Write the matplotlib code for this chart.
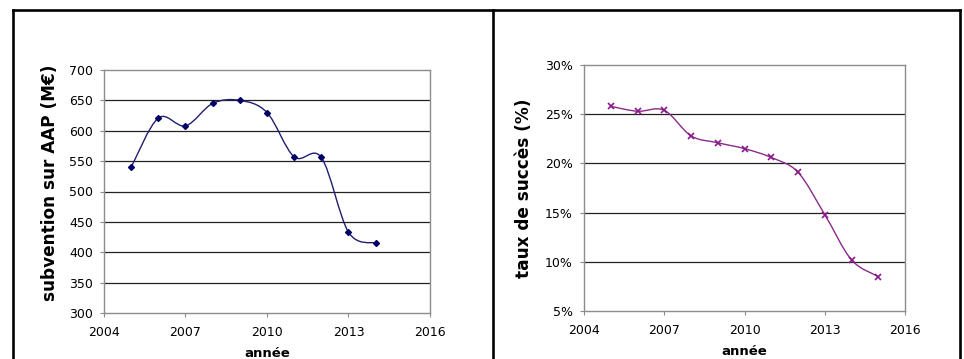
import matplotlib
matplotlib.use("Agg")
import matplotlib.pyplot as plt
from matplotlib.path import Path
from matplotlib.patches import PathPatch
from matplotlib.lines import Line2D
from matplotlib.ticker import FuncFormatter
import numpy as np

years_left = [2005, 2006, 2007, 2008, 2009, 2010, 2011, 2012, 2013, 2014]
subvention = [540, 621, 608, 645, 650, 630, 557, 556, 433, 415]

years_right = [2005, 2006, 2007, 2008, 2009, 2010, 2011, 2012, 2013, 2014, 2015]
taux = [25.8, 25.3, 25.4, 22.8, 22.1, 21.5, 20.6, 19.1, 14.8, 10.2, 8.5]

x_ticks = [2004, 2007, 2010, 2013, 2016]
left_yticks = [300, 350, 400, 450, 500, 550, 600, 650, 700]
right_yticks = [5, 10, 15, 20, 25, 30]

plt.rcParams['font.family'] = ['DejaVu Sans']

fig = plt.figure(figsize=(9.64, 3.59), dpi=100)

def smooth_path(xs, ys):
    xs = np.asarray(xs, float); ys = np.asarray(ys, float)
    n = len(xs)
    verts = [(xs[0], ys[0])]
    codes = [Path.MOVETO]
    for i in range(n - 1):
        p0 = np.array([xs[max(i - 1, 0)], ys[max(i - 1, 0)]])
        p1 = np.array([xs[i], ys[i]])
        p2 = np.array([xs[i + 1], ys[i + 1]])
        p3 = np.array([xs[min(i + 2, n - 1)], ys[min(i + 2, n - 1)]])
        c1 = p1 + (p2 - p0) / 6.0
        c2 = p2 - (p3 - p1) / 6.0
        verts += [tuple(c1), tuple(c2), tuple(p2)]
        codes += [Path.CURVE4] * 3
    return Path(verts, codes)

def style_axes(ax, yticks, ylabel, ylpad, ypos, fmt=None):
    ax.set_xlim(x_ticks[0], x_ticks[-1])
    ax.set_ylim(yticks[0], yticks[-1])
    ax.set_xticks(x_ticks)
    ax.set_yticks(yticks)
    for s in ax.spines.values():
        s.set_color('#8c8c8c')
        s.set_linewidth(1.0)
    ax.tick_params(axis='both', direction='out', length=3, width=0.8,
                   color='#8c8c8c', labelsize=9, labelcolor='black')
    ax.tick_params(axis='x', pad=6)
    ax.tick_params(axis='y', pad=5)
    for yv in yticks[1:-1]:
        ax.axhline(yv, color='#222222', linewidth=0.9, zorder=1)
    if fmt:
        ax.yaxis.set_major_formatter(FuncFormatter(fmt))
    ax.set_xlabel('année', fontsize=9.5, fontweight='bold', labelpad=6)
    ax.set_ylabel(ylabel, fontsize=12.2, fontweight='bold', labelpad=ylpad)
    ax.yaxis.label.set_y(ypos)

ax1 = fig.add_axes([104/964, 1 - 313/359, (430 - 104)/964, (313 - 70)/359])
style_axes(ax1, left_yticks, 'subvention sur AAP (M€)', 7, 0.537)
ax1.add_patch(PathPatch(smooth_path(years_left, subvention), facecolor='none',
                        edgecolor='#1f1f70', linewidth=1.0, zorder=3))
ax1.plot(years_left, subvention, linestyle='none', marker='D', markersize=3,
         color='#000066', zorder=4)

ax2 = fig.add_axes([584/964, 1 - 311/359, (905 - 584)/964, (311 - 65)/359])
style_axes(ax2, right_yticks, 'taux de succès (%)', 9, 0.5, fmt=lambda v, p: f"{v:.0f}%")
ax2.add_patch(PathPatch(smooth_path(years_right, taux), facecolor='none',
                        edgecolor='#8a2a8a', linewidth=1.0, zorder=3))
ax2.plot(years_right, taux, linestyle='none', marker='x', markersize=4,
         markeredgewidth=1.2, color='#8a1a8a', zorder=4)

# outer frame
lw = 1.9
def fl(x0, y0, x1, y1):
    fig.add_artist(Line2D([x0/964, x1/964], [1 - y0/359, 1 - y1/359],
                          color='black', linewidth=lw, solid_capstyle='projecting'))
fl(13, 10, 960, 10)
fl(13, 10, 13, 365)
fl(493, 10, 493, 365)
fl(960, 10, 960, 365)

fig.savefig('out.png', dpi=100)
